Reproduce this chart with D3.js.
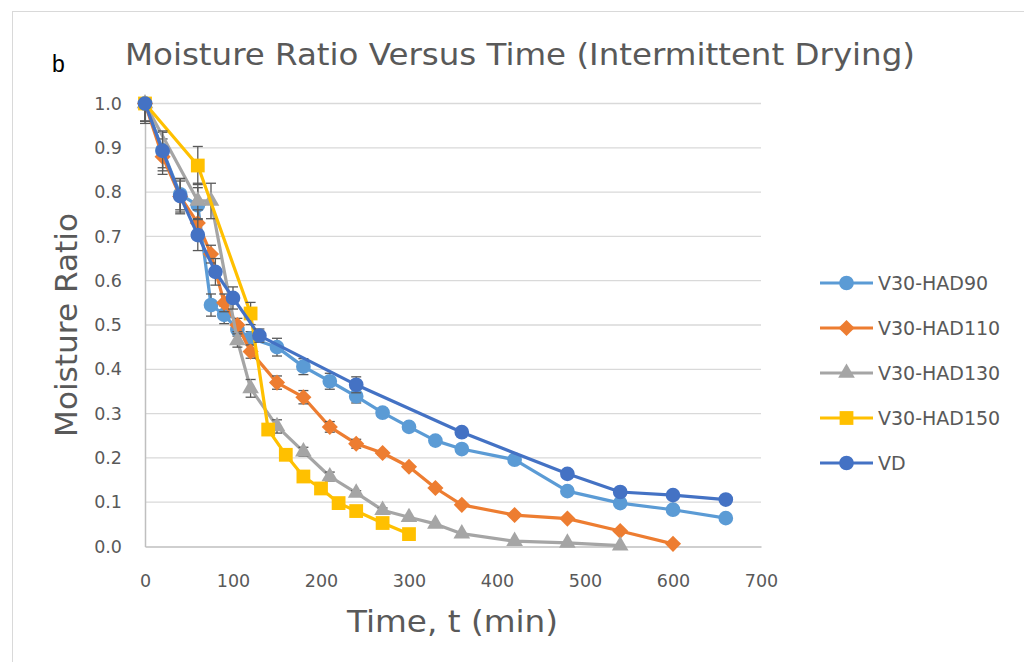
<html>
<head>
  <title>Moisture Ratio Versus Time</title>
  <script src="https://d3js.org/d3.v7.min.js"></script>
  <style>
    body { margin: 0; background: #fff; }
    text { font-family: "DejaVu Sans", sans-serif; fill: #595959; }
  </style>
</head>
<body>
  <script>
    // series data
    var seriesNames = ["V30-HAD90", "V30-HAD110", "V30-HAD130", "V30-HAD150", "VD"];
    var seriesColors = ["#5B9BD5", "#ED7D31", "#A5A5A5", "#FFC000", "#4472C4"];
    var seriesShapes = ["circle", "diamond", "triangle", "square", "circle"];

    var had90T = [0, 20, 40, 60, 75, 90, 105, 120, 150, 180, 210, 240, 270, 300, 330, 360, 420, 480, 540, 600, 660];
    var had90V = [1.0, 0.895, 0.795, 0.77, 0.545, 0.523, 0.49, 0.47, 0.45, 0.406, 0.373, 0.339, 0.302, 0.270, 0.239, 0.220, 0.196, 0.125, 0.098, 0.083, 0.064];
    var had90E = [0.04, 0.04, 0.035, 0.04, 0.025, 0.02, 0.015, 0.015, 0.02, 0.018, 0.018, 0.015, 0.01, 0.01, 0.005, 0.005, 0, 0, 0, 0, 0];

    var had110T = [0, 20, 40, 60, 75, 90, 105, 120, 150, 180, 210, 240, 270, 300, 330, 360, 420, 480, 540, 600];
    var had110V = [1.0, 0.88, 0.79, 0.73, 0.66, 0.55, 0.50, 0.44, 0.37, 0.337, 0.270, 0.232, 0.211, 0.180, 0.132, 0.094, 0.071, 0.063, 0.035, 0.006];
    var had110E = [0.04, 0.04, 0.035, 0.03, 0.02, 0.02, 0.015, 0.015, 0.015, 0.015, 0.012, 0.01, 0.005, 0, 0, 0, 0, 0, 0, 0];

    var had130T = [0, 60, 75, 105, 120, 150, 180, 210, 240, 270, 300, 330, 360, 420, 480, 540];
    var had130V = [1.0, 0.78, 0.78, 0.465, 0.357, 0.271, 0.214, 0.158, 0.121, 0.082, 0.066, 0.051, 0.029, 0.012, 0.008, 0.002];
    var had130E = [0.04, 0.04, 0.04, 0.015, 0.02, 0.015, 0.01, 0.01, 0.005, 0.005, 0, 0, 0, 0, 0, 0];

    var had150T = [0, 60, 120, 140, 160, 180, 200, 220, 240, 270, 300];
    var had150V = [1.0, 0.86, 0.526, 0.264, 0.207, 0.158, 0.131, 0.098, 0.080, 0.053, 0.028];
    var had150E = [0.01, 0.043, 0.025, 0.01, 0.005, 0, 0, 0, 0, 0, 0];

    var vdT = [0, 20, 40, 60, 80, 100, 130, 240, 360, 480, 540, 600, 660];
    var vdV = [1.0, 0.893, 0.791, 0.703, 0.620, 0.561, 0.476, 0.365, 0.258, 0.164, 0.123, 0.116, 0.106];
    var vdE = [0.045, 0.045, 0.04, 0.035, 0.03, 0.025, 0.015, 0.018, 0.01, 0, 0, 0, 0];

    var xTicks = [0, 100, 200, 300, 400, 500, 600, 700];
    var yTicks = [0, 0.1, 0.2, 0.3, 0.4, 0.5, 0.6, 0.7, 0.8, 0.9, 1.0];

    var allT = [had90T, had110T, had130T, had150T, vdT];
    var allV = [had90V, had110V, had130V, had150V, vdV];
    var allE = [had90E, had110E, had130E, had150E, vdE];

    var w = 1024, h = 662;
    var svg = d3.select("body").append("svg").attr("width", w).attr("height", h);

    // chart border (the chart area runs off the right / bottom of the picture)
    svg.append("rect").attr("x", 12.5).attr("y", 11.5).attr("width", 1040).attr("height", 680)
      .attr("fill", "#fff").attr("stroke", "#d9d9d9").attr("stroke-width", 1);

    var x = d3.scaleLinear().domain([0, 700]).range([145, 761]);
    var y = d3.scaleLinear().domain([0, 1]).range([546.5, 103.5]);

    // gridlines
    svg.append("g").selectAll("line").data(yTicks.slice(1)).enter().append("line")
      .attr("x1", x(0)).attr("x2", x(700))
      .attr("y1", function(d) { return y(d); }).attr("y2", function(d) { return y(d); })
      .attr("stroke", "#d9d9d9").attr("stroke-width", 1.3);

    // axes, no tick marks
    var xAxis = svg.append("g").attr("transform", "translate(0," + y(0) + ")")
      .call(d3.axisBottom(x).tickValues(xTicks).tickSize(0).tickPadding(28).tickFormat(d3.format("d")));
    var yAxis = svg.append("g").attr("transform", "translate(" + x(0) + ",0)")
      .call(d3.axisLeft(y).tickValues(yTicks).tickSize(0).tickPadding(23).tickFormat(d3.format(".1f")));
    xAxis.select(".domain").attr("stroke", "#bfbfbf").attr("stroke-width", 1.5);
    yAxis.select(".domain").attr("stroke", "#bfbfbf").attr("stroke-width", 1.5);
    svg.selectAll(".tick text").attr("font-size", 17.5).attr("fill", "#595959")
      .attr("font-family", "'DejaVu Sans', sans-serif");

    // Excel-style diamond: a square turned 45 degrees
    var squareDiamond = {
      draw: function(ctx, size) {
        var r = Math.sqrt(size / 2);
        ctx.moveTo(0, -r); ctx.lineTo(r, 0); ctx.lineTo(0, r); ctx.lineTo(-r, 0); ctx.closePath();
      }
    };
    var symbolType = {
      circle: d3.symbolCircle, diamond: squareDiamond,
      triangle: d3.symbolTriangle, square: d3.symbolSquare
    };
    var symbolSize = { circle: 170, diamond: 130, triangle: 120, square: 190 };

    var line = d3.line().x(function(d) { return x(d[0]); }).y(function(d) { return y(d[1]); });

    seriesNames.forEach(function(name, i) {
      var pts = allT[i].map(function(t, j) { return [t, allV[i][j], allE[i][j]]; });
      var g = svg.append("g");
      g.append("path").attr("d", line(pts)).attr("fill", "none")
        .attr("stroke", seriesColors[i]).attr("stroke-width", 3.2).attr("stroke-linejoin", "round");
      // error bars (upper half dropped where it would pass 1.0)
      var eb = g.selectAll(".eb").data(pts.filter(function(d) { return d[2] > 0; })).enter().append("g");
      eb.append("line")
        .attr("x1", function(d) { return x(d[0]); }).attr("x2", function(d) { return x(d[0]); })
        .attr("y1", function(d) { return y(d[1] + d[2] > 1 ? d[1] : d[1] + d[2]); })
        .attr("y2", function(d) { return y(d[1] - d[2]); })
        .attr("stroke", "#595959").attr("stroke-width", 1.3);
      [1, -1].forEach(function(s) {
        eb.filter(function(d) { return d[1] + s * d[2] <= 1; }).append("line")
          .attr("x1", function(d) { return x(d[0]) - 5; }).attr("x2", function(d) { return x(d[0]) + 5; })
          .attr("y1", function(d) { return y(d[1] + s * d[2]); }).attr("y2", function(d) { return y(d[1] + s * d[2]); })
          .attr("stroke", "#595959").attr("stroke-width", 1.3);
      });
      g.selectAll(".m").data(pts).enter().append("path")
        .attr("d", d3.symbol().type(symbolType[seriesShapes[i]]).size(symbolSize[seriesShapes[i]]))
        .attr("transform", function(d) { return "translate(" + x(d[0]) + "," + y(d[1]) + ")"; })
        .attr("fill", seriesColors[i]);
    });

    // legend
    var legend = svg.append("g");
    seriesNames.forEach(function(name, i) {
      var ly = 283 + i * 45;
      legend.append("line").attr("x1", 820).attr("x2", 873).attr("y1", ly).attr("y2", ly)
        .attr("stroke", seriesColors[i]).attr("stroke-width", 3.2);
      legend.append("path")
        .attr("d", d3.symbol().type(symbolType[seriesShapes[i]]).size(symbolSize[seriesShapes[i]]))
        .attr("transform", "translate(846.5," + ly + ")").attr("fill", seriesColors[i]);
      legend.append("text").attr("x", 878).attr("y", ly + 7).attr("font-size", 19).text(name);
    });

    // titles
    svg.append("text").attr("x", 52).attr("y", 72).attr("font-size", 23)
      .style("font-family", "'Liberation Sans', sans-serif").style("fill", "#000").text("b");
    svg.append("text").attr("x", 125).attr("y", 65).attr("font-size", 30)
      .attr("textLength", 790).attr("lengthAdjust", "spacingAndGlyphs")
      .text("Moisture Ratio Versus Time (Intermittent Drying)");
    svg.append("text").attr("x", 347).attr("y", 632).attr("font-size", 30)
      .attr("textLength", 211).attr("lengthAdjust", "spacingAndGlyphs")
      .text("Time, t (min)");
    svg.append("text").attr("transform", "translate(77,437) rotate(-90)").attr("font-size", 30)
      .attr("textLength", 224).attr("lengthAdjust", "spacingAndGlyphs")
      .text("Moisture Ratio");
  </script>
</body>
</html>
